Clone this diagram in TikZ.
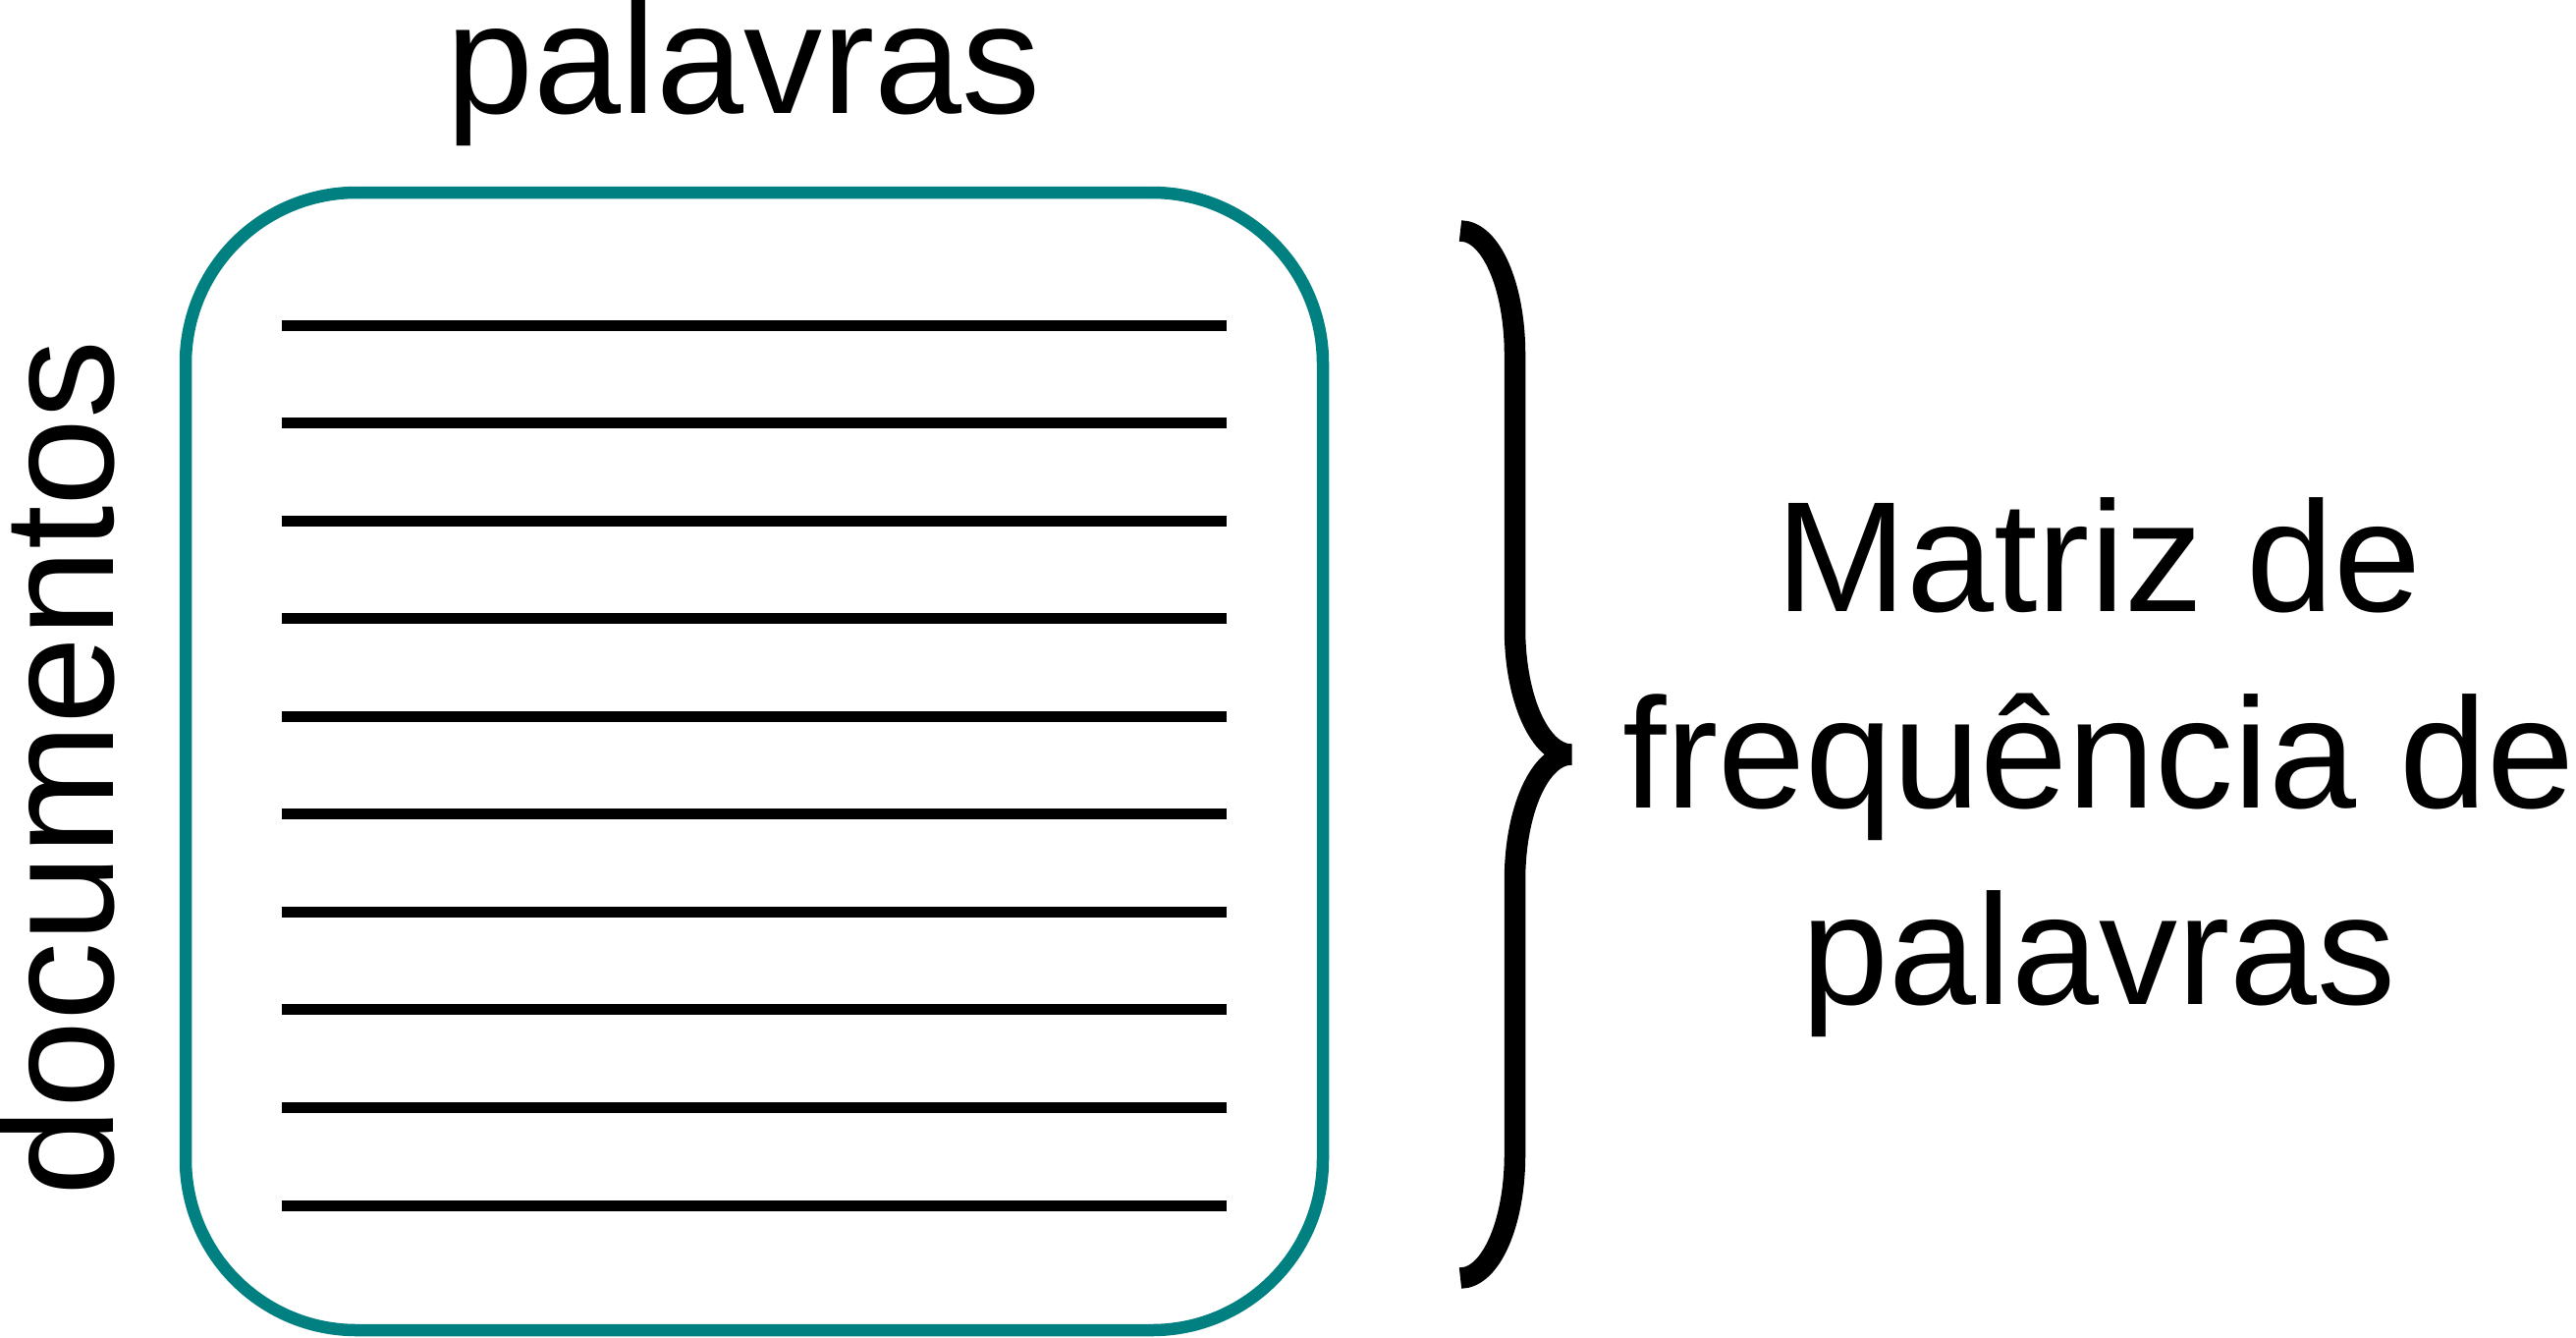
\documentclass[tikz,border=0pt]{standalone}
\usepackage{fontspec}
\setmainfont{Liberation Sans}
\definecolor{boxteal}{RGB}{0,128,128}
\tikzset{
  lbl/.style={inner sep=0pt, outer sep=0pt, anchor=base, font=\fontsize{80}{100}\selectfont},
  boxline/.style={draw=boxteal, line width=6.25pt, rounded corners=87pt},
  rowline/.style={draw=black, line width=5.5pt},
  bracestyle/.style={draw=black, line width=10.75pt, line join=bevel, line cap=butt}
}
\begin{document}
\begin{tikzpicture}[x=0.5pt, y=-0.5pt]
\useasboundingbox (0,0) rectangle (2623,1361);
% matrix box
\path[boxline] (189,196) rectangle (1347,1354);
% rows
\foreach \i in {0,...,9} {
  \coordinate (r\i a) at (287,331+99.56*\i);
  \coordinate (r\i b) at (1249,331+99.56*\i);
  \draw[rowline] (r\i a) -- (r\i b);
}
% labels
\node[lbl] (top) at (757,115) {palavras};
\node[lbl, rotate=90] (left) at (115,782) {documentos};
% brace
\draw[bracestyle] (1487,235) .. controls (1518,235) and (1542.5,291) .. (1542.5,361)
  -- (1542.5,640) .. controls (1542.5,711) and (1568,768) .. (1600,768)
  .. controls (1568,768) and (1542.5,825) .. (1542.5,896)
  -- (1542.5,1175) .. controls (1542.5,1245) and (1518,1301) .. (1487,1301);
% right text
\node[lbl] (t1) at (2137,622.6) {Matriz de};
\node[lbl] (t2) at (2137,822) {frequência de};
\node[lbl] (t3) at (2137,1022.6) {palavras};
\end{tikzpicture}
\end{document}
